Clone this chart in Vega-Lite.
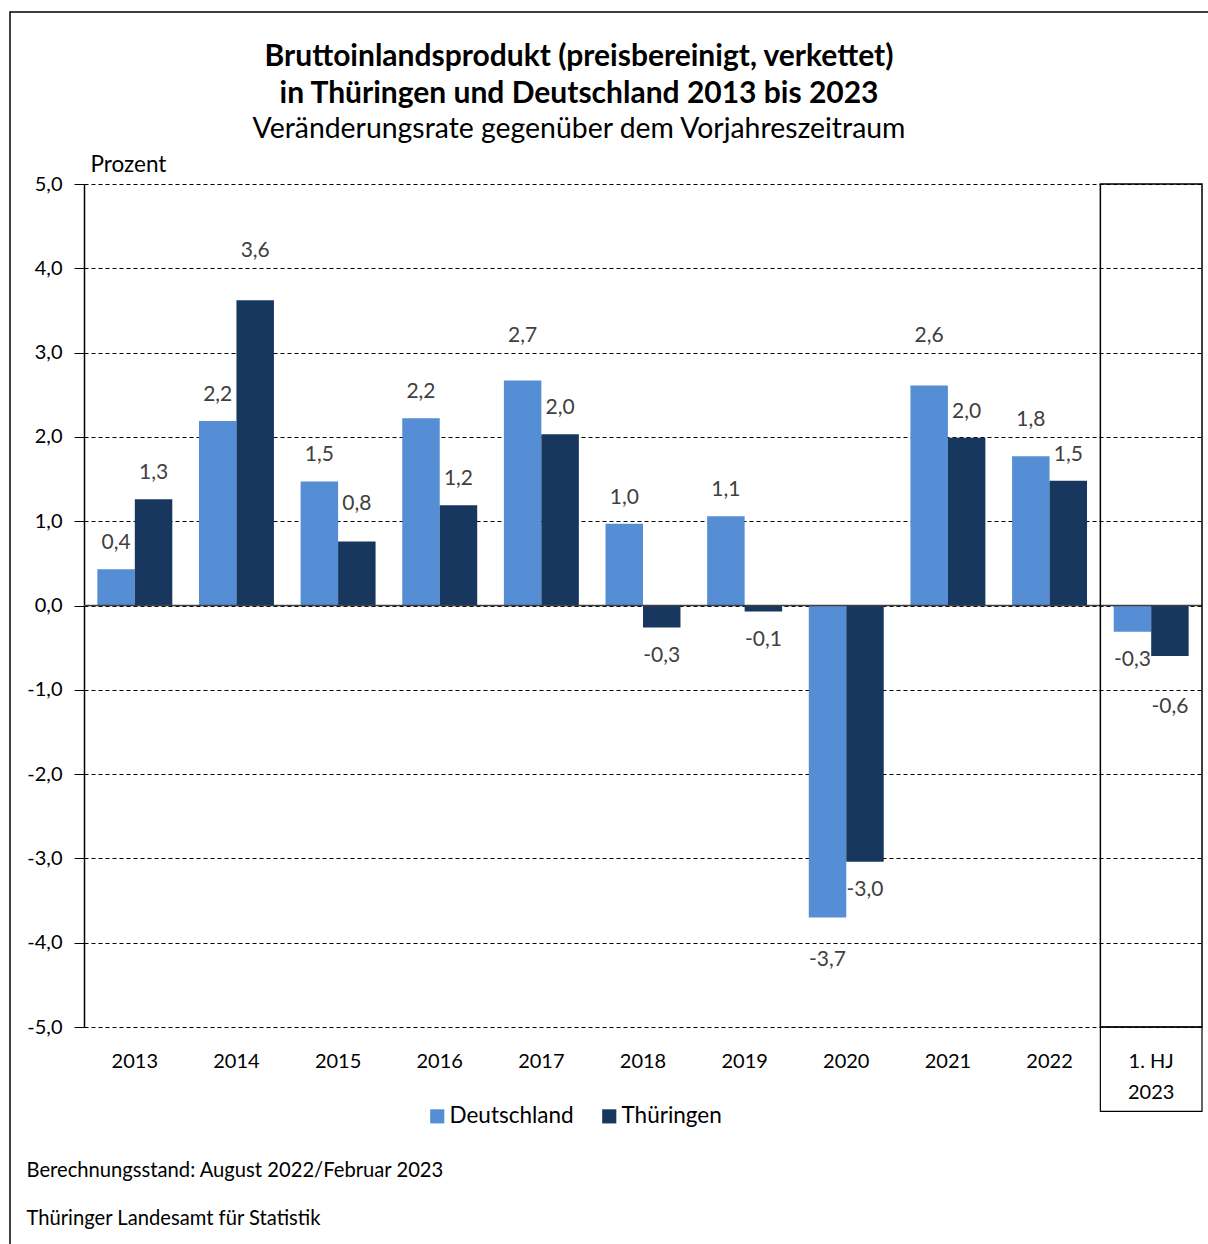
{
  "$schema": "https://vega.github.io/schema/vega-lite/v6.json",
  "width": 1118,
  "height": 843,
  "autosize": {"type": "none"},
  "padding": {"left": 84, "top": 184, "right": 6, "bottom": 217},
  "background": "white",
  "config": {
    "font": "Lato",
    "view": {"stroke": null},
    "locale": {"number": {"decimal": ",", "thousands": ".", "grouping": [3], "currency": ["", " €"], "minus": "-"}},
    "title": {"color": "black", "subtitleColor": "black"}
  },
  "title": {
    "text": ["Bruttoinlandsprodukt (preisbereinigt, verkettet)", "in Thüringen und Deutschland 2013 bis 2023"],
    "subtitle": "Veränderungsrate gegenüber dem Vorjahreszeitraum",
    "fontSize": 30,
    "fontWeight": "bold",
    "lineHeight": 37,
    "subtitleFontSize": 28.4,
    "subtitleFontWeight": "normal",
    "subtitlePadding": 7,
    "anchor": "middle",
    "dx": -64,
    "offset": -132
  },
  "data": {"values": [
    {"cat": "2013", "series": "Deutschland", "value": 0.43},
    {"cat": "2013", "series": "Thüringen", "value": 1.26},
    {"cat": "2014", "series": "Deutschland", "value": 2.19},
    {"cat": "2014", "series": "Thüringen", "value": 3.62},
    {"cat": "2015", "series": "Deutschland", "value": 1.47},
    {"cat": "2015", "series": "Thüringen", "value": 0.76},
    {"cat": "2016", "series": "Deutschland", "value": 2.22},
    {"cat": "2016", "series": "Thüringen", "value": 1.19},
    {"cat": "2017", "series": "Deutschland", "value": 2.67},
    {"cat": "2017", "series": "Thüringen", "value": 2.03},
    {"cat": "2018", "series": "Deutschland", "value": 0.97},
    {"cat": "2018", "series": "Thüringen", "value": -0.26},
    {"cat": "2019", "series": "Deutschland", "value": 1.06},
    {"cat": "2019", "series": "Thüringen", "value": -0.07},
    {"cat": "2020", "series": "Deutschland", "value": -3.7},
    {"cat": "2020", "series": "Thüringen", "value": -3.04},
    {"cat": "2021", "series": "Deutschland", "value": 2.61},
    {"cat": "2021", "series": "Thüringen", "value": 1.99},
    {"cat": "2022", "series": "Deutschland", "value": 1.77},
    {"cat": "2022", "series": "Thüringen", "value": 1.48},
    {"cat": "1. HJ 2023", "series": "Deutschland", "value": -0.31},
    {"cat": "1. HJ 2023", "series": "Thüringen", "value": -0.6}
  ]},
  "resolve": {"scale": {"x": "independent"}},
  "layer": [
    {
      "data": {"values": [{}]},
      "mark": {"type": "rect", "fill": null, "stroke": "black", "strokeWidth": 1.5},
      "encoding": {
        "x": {"datum": -0.0662, "type": "quantitative", "scale": {"domain": [0, 1], "nice": false, "zero": false}, "axis": null},
        "x2": {"datum": 1.2},
        "y": {"datum": 7.04, "type": "quantitative", "scale": {"domain": [-5, 5], "nice": false}},
        "y2": {"datum": -9}
      }
    },
    {
      "layer": [
        {
          "mark": {"type": "bar", "orient": "vertical"},
          "encoding": {
            "x": {
              "field": "cat", "type": "nominal",
              "scale": {"domain": ["2013","2014","2015","2016","2017","2018","2019","2020","2021","2022","1. HJ 2023"], "paddingInner": 0, "paddingOuter": 0},
              "axis": {
                "labelFontSize": 20, "labelColor": "black", "labelAngle": 0, "labelPadding": 24,
                "labelLineHeight": 31,
                "labelExpr": "datum.label == '1. HJ 2023' ? ['1. HJ', '2023'] : datum.label",
                "ticks": false, "domain": false, "grid": false,
                "title": ["Berechnungsstand: August 2022/Februar 2023", "Thüringer Landesamt für Statistik"],
                "titleFontSize": 20.2, "titleFontWeight": "normal", "titleColor": "black",
                "titleAlign": "left", "titleAnchor": "start", "titleBaseline": "middle",
                "titleX": -58, "titleY": 143, "titleLineHeight": 48
              }
            },
            "xOffset": {"field": "series", "type": "nominal", "scale": {"paddingInner": 0, "paddingOuter": 0.356}},
            "y": {
              "field": "value", "type": "quantitative",
              "scale": {"domain": [-5, 5], "nice": false, "zero": false},
              "axis": {
                "values": [-5,-4,-3,-2,-1,0,1,2,3,4,5], "format": ".1f",
                "labelFontSize": 20, "labelColor": "black", "labelPadding": 12,
                "tickSize": 10, "tickColor": "black", "domainColor": "black", "domainWidth": 1.5,
                "grid": true, "gridColor": "black", "gridDash": [4, 3], "gridWidth": 1,
                "title": "Prozent", "titleAngle": 0, "titleAlign": "left", "titleBaseline": "middle",
                "titleX": 6, "titleY": -20, "titleFontSize": 22.5, "titleFontWeight": "normal", "titleColor": "black"
              }
            },
            "color": {
              "field": "series", "type": "nominal",
              "scale": {"domain": ["Deutschland", "Thüringen"], "range": ["#558ED5", "#17375E"]},
              "legend": {
                "title": null, "orient": "none", "legendX": 342, "legendY": 921, "direction": "horizontal",
                "symbolType": "square", "symbolSize": 200, "symbolStrokeWidth": 0, "symbolOpacity": 1,
                "labelFontSize": 22.5, "labelColor": "black", "columnPadding": 24, "labelOffset": 1
              }
            }
          }
        },
        {
          "data": {"values": [{}]},
          "mark": {"type": "rule", "color": "#404040", "strokeWidth": 1.6},
          "encoding": {"y": {"datum": 0, "type": "quantitative", "scale": {"domain": [-5, 5], "nice": false}}}
        },
        {
          "data": {"values": [{}]},
          "mark": {"type": "rect", "fill": null, "stroke": "black", "strokeWidth": 1.5},
          "encoding": {
            "x": {"datum": "1. HJ 2023", "type": "nominal"},
            "y": {"datum": 5, "type": "quantitative", "scale": {"domain": [-5, 5], "nice": false}},
            "y2": {"datum": -5}
          }
        },
        {
          "data": {"values": [{}]},
          "mark": {"type": "rect", "fill": null, "stroke": "black", "strokeWidth": 1.2},
          "encoding": {
            "x": {"datum": "1. HJ 2023", "type": "nominal"},
            "y": {"datum": -5, "type": "quantitative", "scale": {"domain": [-5, 5], "nice": false}},
            "y2": {"datum": -6}
          }
        },
        {
          "transform": [{"filter": "datum.value >= 0"}],
          "mark": {"type": "text", "baseline": "middle", "align": "center", "fontSize": 21, "color": "#404040",
            "dy": {"expr": "-84.3 * (abs(datum.value + 0.31 - round(datum.value + 0.31)) < 0.15 ? round(datum.value + 0.31) + 0.2 - datum.value : 0.31)"}},
          "encoding": {
            "x": {"field": "cat", "type": "nominal"},
            "xOffset": {"field": "series", "type": "nominal"},
            "y": {"field": "value", "type": "quantitative", "scale": {"domain": [-5, 5], "nice": false}},
            "text": {"field": "value", "type": "quantitative", "format": ".1f"}
          }
        },
        {
          "transform": [{"filter": "datum.value < 0"}],
          "mark": {"type": "text", "baseline": "middle", "align": "center", "fontSize": 21, "color": "#404040",
            "dy": {"expr": "84.3 * (abs(datum.value - 0.34 - round(datum.value - 0.34)) < 0.15 ? datum.value - round(datum.value - 0.34) + 0.2 : 0.34)"}},
          "encoding": {
            "x": {"field": "cat", "type": "nominal"},
            "xOffset": {"field": "series", "type": "nominal"},
            "y": {"field": "value", "type": "quantitative", "scale": {"domain": [-5, 5], "nice": false}},
            "text": {"field": "value", "type": "quantitative", "format": ".1f"}
          }
        }
      ]
    }
  ]
}
